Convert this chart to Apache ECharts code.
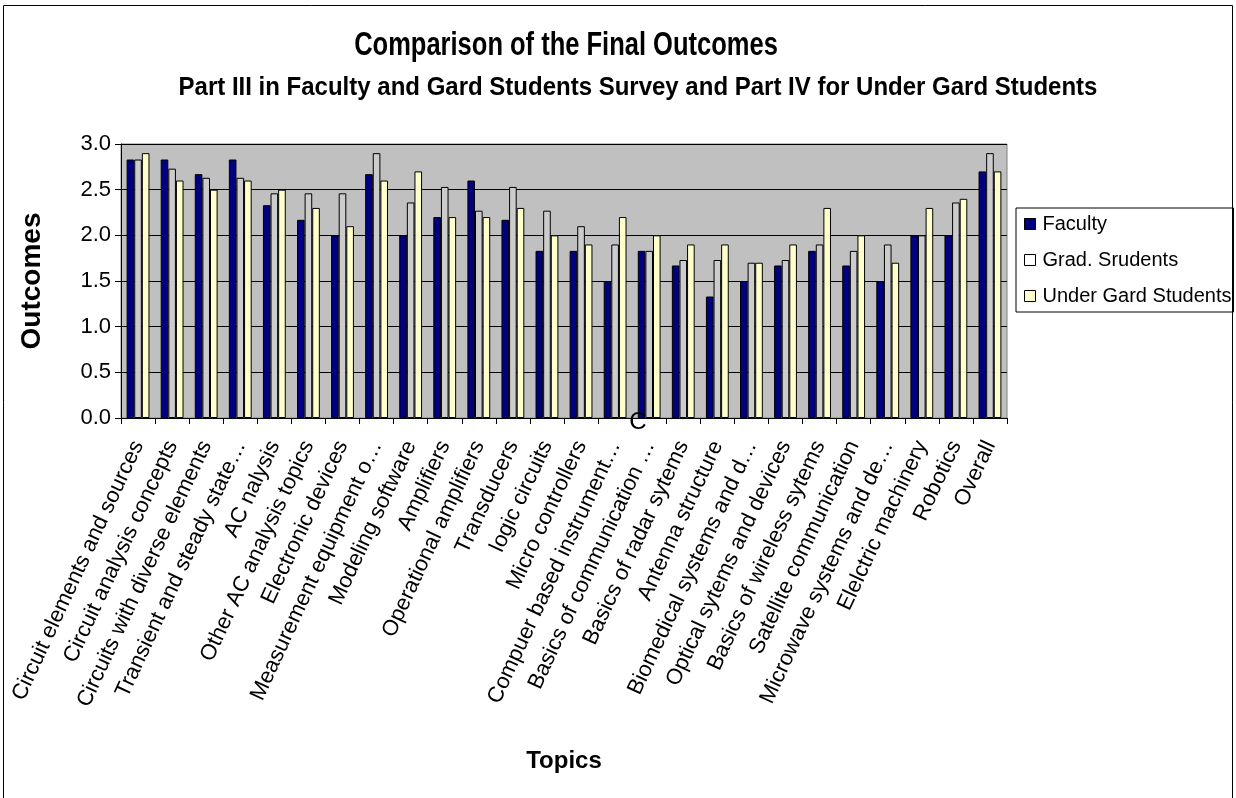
<!DOCTYPE html>
<html>
<head>
<meta charset="utf-8">
<script src="https://cdn.jsdelivr.net/npm/echarts@6/dist/echarts.min.js"></script>
<style>
  html, body { margin: 0; padding: 0; background: #ffffff; }
  #chart { width: 1236px; height: 798px; }
</style>
</head>
<body>
<div id="chart"></div>
<script>
// Topics surveyed (truncated labels kept as they appear on the axis)
const topics = [
  'Circuit elements and sources',
  'Circuit analysis concepts',
  'Circuits with diverse elements',
  'Transient and steady state…',
  'AC nalysis',
  'Other AC analysis topics',
  'Electronic devices',
  'Measurement equipment o…',
  'Modeling software',
  'Amplifiers',
  'Operational amplifiers',
  'Transducers',
  'logic circuits',
  'Micro controllers',
  'Compuer based instrument…',
  'Basics of communication …',
  'Basics of radar sytems',
  'Antenna structure',
  'Biomedical systems and d…',
  'Optical sytems and devices',
  'Basics of wireless sytems',
  'Satellite communication',
  'Microwave systems and de…',
  'Elelctric machinery',
  'Robotics',
  'Overall'
];

// Mean outcome ratings per group
const faculty = [2.83, 2.83, 2.67, 2.83, 2.33, 2.17, 2.00, 2.67, 2.00, 2.20, 2.60, 2.17, 1.83,
                 1.83, 1.50, 1.83, 1.67, 1.33, 1.50, 1.67, 1.83, 1.67, 1.50, 2.00, 2.00, 2.70];
const gradStudents = [2.83, 2.73, 2.63, 2.63, 2.46, 2.46, 2.46, 2.90, 2.36, 2.53, 2.27, 2.53, 2.27,
                      2.10, 1.90, 1.83, 1.73, 1.73, 1.70, 1.73, 1.90, 1.83, 1.90, 2.00, 2.36, 2.90];
const underGrad = [2.90, 2.60, 2.50, 2.60, 2.50, 2.30, 2.10, 2.60, 2.70, 2.20, 2.20, 2.30, 2.00,
                   1.90, 2.20, 2.00, 1.90, 1.90, 1.70, 1.90, 2.30, 2.00, 1.70, 2.30, 2.40, 2.70];

const seriesNames = ['Faculty', 'Grad. Srudents', 'Under Gard Students'];
const yTicks = { min: 0, max: 3, interval: 0.5 };

const FONT = 'Liberation Sans, Arial, sans-serif';

const chart = echarts.init(document.getElementById('chart'), null, { renderer: 'canvas' });

const barStyle = (fill) => ({ color: fill, borderColor: '#000000', borderWidth: 1 });

chart.setOption({
  backgroundColor: '#ffffff',
  animation: false,
  grid: {
    left: 121, top: 144, width: 886, height: 274,
    show: true, backgroundColor: '#c0c0c0', borderColor: '#808080', borderWidth: 1
  },
  legend: {
    orient: 'vertical',
    left: 1016, top: 208,
    padding: [6, 2, 6, 8],
    itemGap: 16,
    itemWidth: 11, itemHeight: 11,
    borderColor: '#000000', borderWidth: 1,
    icon: 'rect',
    textStyle: { fontFamily: FONT, fontSize: 20, color: '#000000', padding: [0, 0, 0, 2] },
    data: [
      { name: seriesNames[0], itemStyle: { color: '#000080', borderColor: '#000', borderWidth: 1 } },
      { name: seriesNames[1], itemStyle: { color: '#ffffff', borderColor: '#000', borderWidth: 1 } },
      { name: seriesNames[2], itemStyle: { color: '#ffffcc', borderColor: '#000', borderWidth: 1 } }
    ]
  },
  xAxis: {
    type: 'category',
    data: topics,
    name: 'Topics',
    nameLocation: 'middle',
    nameGap: 331,
    nameTextStyle: { fontFamily: FONT, fontWeight: 'bold', fontSize: 24, color: '#000' },
    axisLine: { lineStyle: { color: '#000', width: 1 } },
    axisTick: { show: true, length: 6, lineStyle: { color: '#000' } },
    axisLabel: {
      rotate: 65, interval: 0, margin: 24,
      fontFamily: FONT, fontSize: 22, color: '#000'
    },
    splitLine: { show: false }
  },
  yAxis: {
    type: 'value',
    min: yTicks.min, max: yTicks.max, interval: yTicks.interval,
    name: 'Outcomes',
    nameLocation: 'middle',
    nameGap: 75,
    nameRotate: 90,
    nameTextStyle: { fontFamily: FONT, fontWeight: 'bold', fontSize: 28, color: '#000' },
    axisLine: { show: true, lineStyle: { color: '#000', width: 1 } },
    axisTick: { show: true, length: 6, lineStyle: { color: '#000' } },
    axisLabel: {
      margin: 10, fontFamily: FONT, fontSize: 22, color: '#000',
      formatter: (v) => v.toFixed(1)
    },
    splitLine: { show: true, lineStyle: { color: '#000', width: 1 } }
  },
  series: [
    { name: seriesNames[0], type: 'bar', data: faculty, barGap: '0%', barCategoryGap: '33%',
      itemStyle: barStyle('#000080') },
    { name: seriesNames[1], type: 'bar', data: gradStudents, barGap: '0%', barCategoryGap: '33%',
      itemStyle: barStyle('#cccccc') },
    { name: seriesNames[2], type: 'bar', data: underGrad, barGap: '0%', barCategoryGap: '33%',
      itemStyle: barStyle('#ffffcc') }
  ],
  graphic: [
    { type: 'rect', silent: true, z: -1,
      shape: { x: 3.5, y: 5.5, width: 1229, height: 800 },
      style: { fill: 'none', stroke: '#000', lineWidth: 1 } },
    // Condensed bold headings
    { type: 'text', x: 566, y: 46, scaleX: 0.75, silent: true,
      style: { text: 'Comparison of the Final Outcomes', textAlign: 'center', textVerticalAlign: 'middle',
               fontFamily: FONT, fontWeight: 'bold', fontSize: 34, fill: '#000' } },
    { type: 'text', x: 638, y: 88, scaleX: 0.96, silent: true,
      style: { text: 'Part III in Faculty and Gard Students Survey and Part IV for Under Gard Students',
               textAlign: 'center', textVerticalAlign: 'middle',
               fontFamily: FONT, fontWeight: 'bold', fontSize: 25, fill: '#000' } },
    { type: 'text', x: 638, y: 422, z: 100, silent: true,
      style: { text: 'C', textAlign: 'center', textVerticalAlign: 'middle',
               fontFamily: FONT, fontSize: 24, fill: '#000' } }
  ]
});
</script>
</body>
</html>
